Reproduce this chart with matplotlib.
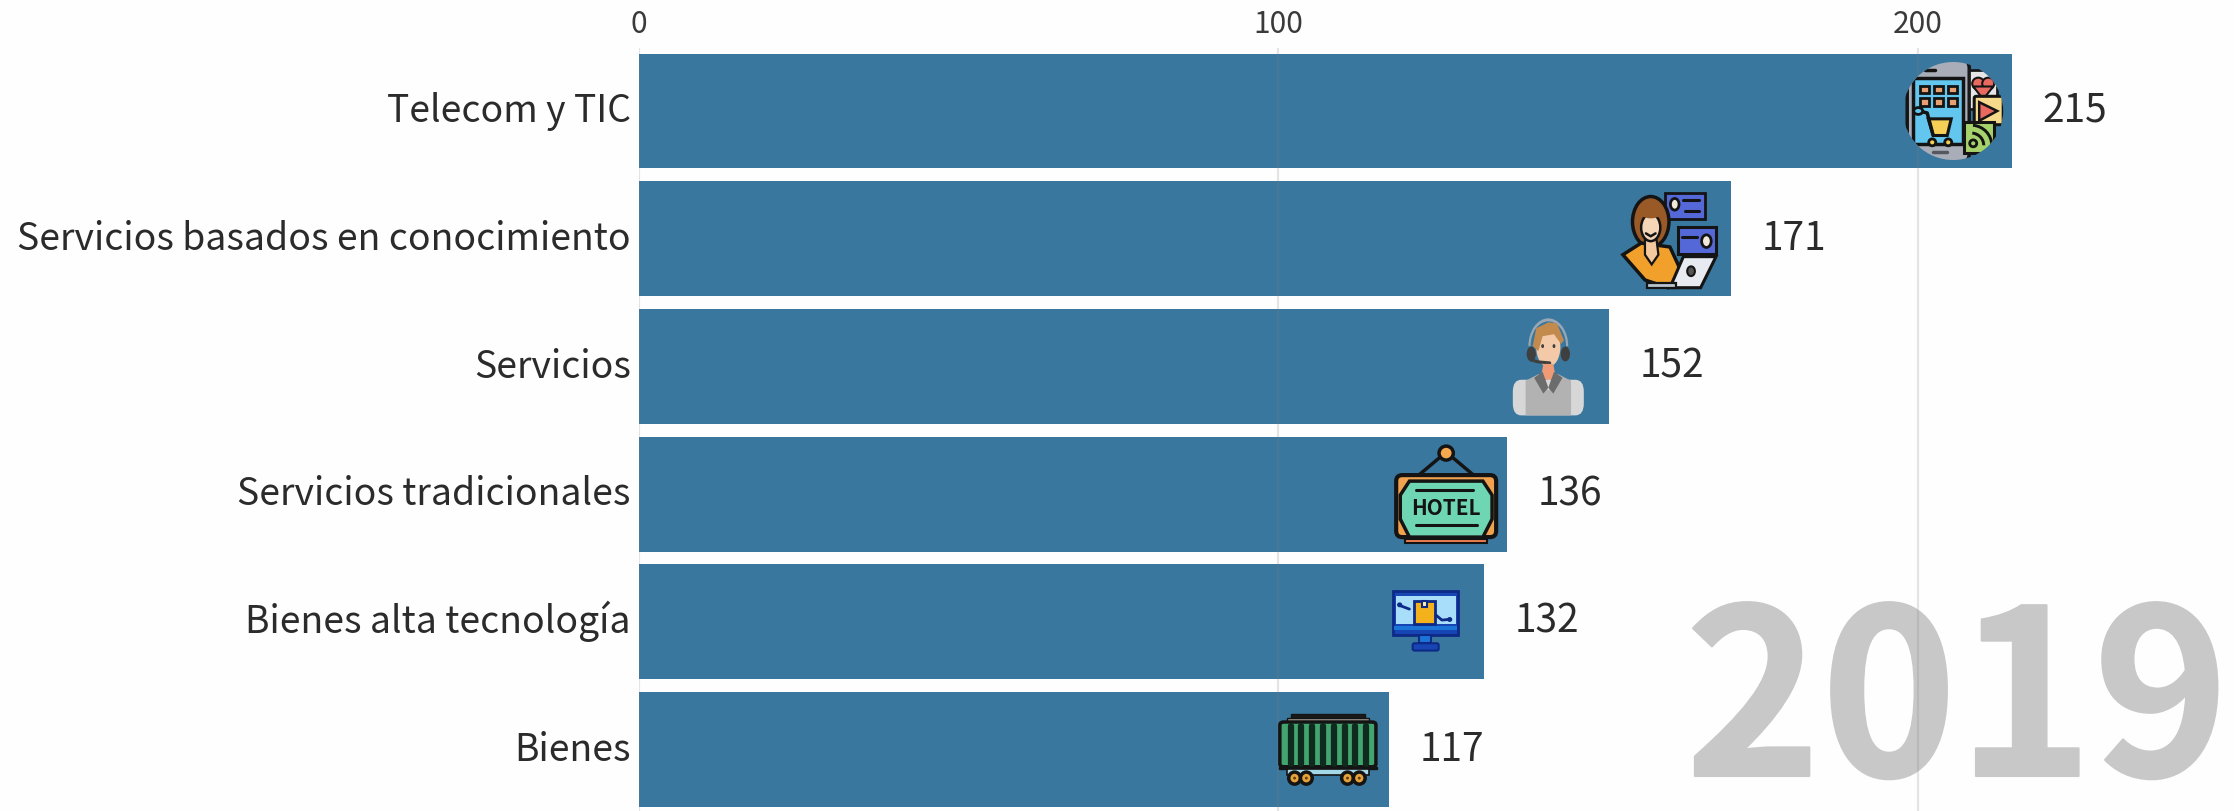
import matplotlib
matplotlib.use("Agg")
import matplotlib.pyplot as plt
import matplotlib.patheffects as pe
from matplotlib.patches import Rectangle, Circle, Polygon, FancyBboxPatch, Ellipse, Wedge
from matplotlib.transforms import Affine2D, ScaledTranslation

categories = ["Telecom y TIC", "Servicios basados en conocimiento", "Servicios",
              "Servicios tradicionales", "Bienes alta tecnología", "Bienes"]
values = [214.8, 170.8, 151.7, 135.8, 132.2, 117.3]
value_labels = ["215", "171", "152", "136", "132", "117"]
year_label = "2019"
x_ticks = [0, 100, 200]

W, H = 2234, 811
FONT = ["Noto Sans CJK SC", "DejaVu Sans"]
INK = "#2b2b2b"
BAR = "#3a779e"
BK = "#141414"

fig = plt.figure(figsize=(W / 100, H / 100), dpi=100, facecolor="#fefefe")
X0, PX_UNIT, Y0, PITCH, TOP = 639.0, 6.393, 111.0, 127.7, 48.0
ax = fig.add_axes([X0 / W, 0, 1 - X0 / W, 1 - TOP / H])
ax.set_facecolor("none")
ax.set_xlim(0, (W - X0) / PX_UNIT)
ax.set_ylim((H - Y0) / PITCH, (TOP - Y0) / PITCH)

y_pos = list(range(len(categories)))
ax.barh(y_pos, values, height=0.9, color=BAR, zorder=2)
ax.xaxis.tick_top()
ax.set_xticks(x_ticks)
ax.set_xticklabels([str(v) for v in x_ticks], family=FONT, fontsize=21.5, color="#3a3a3a")
ax.tick_params(axis="x", length=0, pad=6)
ax.set_yticks(y_pos)
ax.set_yticklabels(categories, family=FONT, fontsize=26.9, color=INK)
ax.tick_params(axis="y", length=0, pad=6)
baseline_shift = ScaledTranslation(0, -8 / 72, fig.dpi_scale_trans)
for lab in ax.get_yticklabels():
    lab.set_va("baseline")
    lab.set_transform(lab.get_transform() + baseline_shift)
for s in ax.spines.values():
    s.set_visible(False)
ax.set_axisbelow(False)
ax.grid(axis="x", color="#808080", alpha=0.2, lw=1.6, zorder=3)
for gl in ax.get_xgridlines():
    gl.set_zorder(3)

for i, v in enumerate(values):
    ax.annotate(value_labels[i], (v, i), xytext=(22, -8), textcoords="offset points",
                family=FONT, fontsize=28, color=INK, va="baseline", ha="left",
                clip_on=False, zorder=5)

year = fig.text(2229 / W, 1 - 776 / H, year_label, family=FONT, fontweight=900, fontsize=166,
                color="#c8c8c8", ha="right", va="baseline", zorder=0.5)
year.set_path_effects([pe.withStroke(linewidth=1.5, foreground="#c8c8c8")])
ax.set_zorder(2)


def box(i, left, right, up, down):
    """100x100 icon space placed relative to the end of bar i (pixel offsets)."""
    xe, yc = ax.transData.transform((values[i], i))
    x0, x1 = xe - left, xe - right
    y_top, y_bot = yc + up, yc - down
    return Affine2D().scale((x1 - x0) / 100, (y_bot - y_top) / 100).translate(x0, y_top)


class Icon:
    def __init__(self, t, clip=None):
        self.t = t
        self.clip = clip

    def add(self, p, z=6):
        p.set_transform(self.t)
        p.set_zorder(z)
        fig.add_artist(p)
        if self.clip is not None:
            p.set_clip_path(self.clip)
        return p

    def rect(self, x, y, w, h, fc, ec=BK, lw=2.0, r=0):
        if r:
            p = FancyBboxPatch((x, y), w, h, boxstyle=f"round,pad=0,rounding_size={r}", fc=fc, ec=ec, lw=lw)
        else:
            p = Rectangle((x, y), w, h, fc=fc, ec=ec, lw=lw)
        return self.add(p)

    def poly(self, pts, fc, ec=BK, lw=2.0):
        return self.add(Polygon(pts, closed=True, fc=fc, ec=ec, lw=lw))

    def ell(self, x, y, w, h, fc, ec=BK, lw=2.0):
        return self.add(Ellipse((x, y), w, h, fc=fc, ec=ec, lw=lw))

    def line(self, xs, ys, c=BK, lw=2.5):
        l = plt.Line2D(xs, ys, color=c, lw=lw, solid_capstyle="round")
        return self.add(l)


# Telecom: phone with app tiles, clipped by a circle
t = box(0, 109, 9, 49, 49)
clip = Circle((50, 50), 50, transform=t)
ic = Icon(t, clip)
ic.rect(4, -2, 62, 104, "#a9adb8", lw=2.5, r=8)
ic.rect(10, 16, 50, 68, "#62c6ee", lw=2.5)
ic.line([22, 32], [8, 8], lw=2.5)
ic.line([30, 44], [92, 92], c="#55585f", lw=2.5)
for r_y in (24, 37):
    for c_x in (17, 31, 45):
        ic.rect(c_x, r_y, 9, 8, "#e8a070", lw=2.0)
ic.rect(66, 8, 28, 40, "#e6e6e6", ec="#1a1a1a", lw=2.0)
ic.add(Ellipse((75, 22), 12, 12, fc="#e8695f", ec=BK, lw=1.5))
ic.add(Ellipse((85, 22), 12, 12, fc="#e8695f", ec=BK, lw=1.5))
ic.poly([(70, 25), (90, 25), (80, 38)], "#e8695f", lw=1.5)
ic.rect(71, 35, 29, 29, "#f6d98a", lw=2.2, r=2)
ic.poly([(76, 41), (94, 50), (76, 60)], "#e8695f", lw=1.8)
ic.rect(61, 61, 30, 32, "#a5d26b", lw=2.2)
ic.ell(70, 83, 7, 7, "#a5d26b", lw=2)
ic.add(Wedge((68, 85), 14, -85, 0, width=3, fc=BK, ec="none"))
ic.add(Wedge((68, 85), 22, -85, 0, width=3, fc=BK, ec="none"))
ic.poly([(25, 58), (48, 58), (44, 75), (30, 75)], "#f5cf56", lw=2.2)
ic.line([16, 24, 30], [50, 52, 75], lw=2.5)
ic.ell(15, 50, 9, 7, "#62c6ee", lw=2)
ic.ell(29, 82, 7, 7, "#f5cf56", lw=2)
ic.ell(45, 82, 7, 7, "#f5cf56", lw=2)

# Knowledge services: woman at a laptop with info cards
ic = Icon(box(1, 109, 13, 48, 49))
ic.rect(45, 2, 42, 27, "#5468d8", lw=2.0)
ic.ell(55, 14, 9, 12, "#f0e8d8", lw=2)
ic.line([64, 80], [10, 10], lw=2.2)
ic.line([66, 80], [21, 21], lw=2.2)
ic.rect(58, 37, 40, 28, "#5468d8", lw=2.2)
ic.line([63, 78], [48, 48], lw=2.2)
ic.ell(88, 52, 10, 13, "#f0e8d8", lw=2)
ic.add(Ellipse((30, 32), 38, 52, fc="#9a5a28", ec=BK, lw=2.5))
ic.poly([(1, 66), (20, 54), (50, 58), (64, 88), (48, 100), (24, 92)], "#f2a02c", lw=2.5)
ic.poly([(24, 50), (36, 50), (38, 66), (31, 76), (24, 66)], "#f3c9a0", lw=1.6)
ic.ell(30, 38, 20, 28, "#f5d5b8", lw=1.8)
ic.add(Ellipse((30, 23), 22, 11, fc="#9a5a28", ec="none"))
ic.line([25, 30, 35], [44, 47, 44], lw=1.8)
ic.poly([(64, 68), (98, 68), (82, 100), (50, 100)], "#e7eaf0", lw=2.2)
ic.ell(72, 83, 8, 10, "#555", lw=1.5)
ic.rect(26, 95, 30, 5, "#b9c4d0", lw=1.6)

# Services: agent with a headset
ic = Icon(box(2, 96, 25, 50, 49))
ic.add(Wedge((50, 30), 28, 180, 360, width=3, fc="#9aa7b5", ec="none"))
ic.add(Ellipse((50, 31), 34, 40, fc="#f3c9a8", ec="none"))
ic.poly([(28, 30), (33, 12), (50, 6), (62, 7), (72, 24), (68, 28), (58, 18), (42, 20), (36, 35)], "#c28a4c", ec="none", lw=0)
ic.ell(26, 38, 13, 15, "#3f3f3f", ec="none", lw=0)
ic.ell(74, 38, 13, 15, "#3f3f3f", ec="none", lw=0)
ic.line([26, 36, 52], [44, 46, 47], c="#3f3f3f", lw=2.2)
ic.ell(42, 30, 4, 4, "#3f3f3f", ec="none", lw=0)
ic.ell(58, 30, 4, 4, "#3f3f3f", ec="none", lw=0)
ic.poly([(43, 48), (57, 48), (60, 60), (50, 66), (40, 60)], "#ee9b76", ec="none", lw=0)
ic.rect(0, 64, 100, 36, "#d7d7d7", ec="none", lw=0, r=12)
ic.poly([(18, 65), (37, 58), (50, 75), (63, 58), (82, 65), (82, 100), (18, 100)], "#b2b2b2", ec="none", lw=0)
ic.poly([(30, 62), (42, 56), (50, 72), (43, 78)], "#6c6c6c", ec="none", lw=0)
ic.poly([(70, 62), (58, 56), (50, 72), (57, 78)], "#6c6c6c", ec="none", lw=0)

# Traditional services: hanging hotel sign
t = box(3, 112, 10, 49, 51)
ic = Icon(t)
ic.line([22, 50, 78], [31, 7, 31], lw=2.5)
ic.ell(50, 8, 14, 14, "#f4a94e", lw=2.5)
ic.rect(1, 30, 98, 62, "#f0a24e", lw=3, r=6)
ic.poly([(14, 36), (86, 36), (95, 50), (95, 74), (86, 92), (14, 92), (5, 74), (5, 50)], "#6fd6b4", lw=2.5)
ic.rect(10, 94, 80, 4, "#ec7f4e", lw=1.5)
ic.line([20, 76], [45, 45], lw=2.2)
ic.line([20, 80], [80, 80], lw=2.2)
hx, hy = t.transform((50, 63))
fig.text(hx / W, hy / H, "HOTEL", family=FONT, fontweight="bold", fontsize=15,
         color=BK, ha="center", va="center", zorder=7)

# High-tech goods: monitor with a parcel
ic = Icon(box(4, 91, 26, 31, 30))
ic.rect(0, 0, 100, 72, "#1746b4", ec="#0d2a86", lw=2)
ic.rect(4, 8, 92, 46, "#a9defa", ec="none", lw=0)
ic.rect(2, 58, 96, 6, "#1b74d8", ec="none", lw=0)
ic.rect(32, 16, 32, 38, "#f3b21c", ec="#0d2a86", lw=2)
ic.rect(44, 16, 8, 10, "#fff0b0", ec="#0d2a86", lw=1.5)
ic.line([10, 25], [24, 30], c="#0d2a86", lw=2)
ic.ell(10, 23, 8, 8, "#0d2a86", ec="none", lw=0)
ic.line([66, 75, 85], [40, 48, 47], c="#0d2a86", lw=2)
ic.ell(87, 47, 8, 8, "#0d2a86", ec="none", lw=0)
ic.rect(40, 72, 18, 14, "#1b74d8", ec="#0d2a86", lw=1.5)
ic.rect(30, 86, 40, 12, "#1746b4", ec="#0d2a86", lw=1.5, r=3)

# Goods: freight wagon
ic = Icon(box(5, 110, 12, 36, 35))
ic.rect(12, 0, 76, 7, "#1a1a1a", lw=1)
ic.rect(8, 7, 84, 5, "#a09a90", ec=BK, lw=1.0)
ic.rect(1, 12, 98, 63, "#43a56e", lw=2.5, r=4)
for k in range(8):
    ic.line([12 + k * 11] * 2, [18, 71], c="#0f2a1e", lw=4.5)
ic.rect(0, 75, 100, 3, BK, lw=1)
ic.rect(8, 78, 84, 9, "#a4d8e6", ec=BK, lw=1.2)
for cx in (16, 28, 70, 82):
    ic.ell(cx, 91, 12, 17, "#e5a33b", lw=2.5)
    ic.ell(cx, 91, 3, 4, "#6a3c10", ec="none", lw=0)

fig.savefig("out.png", dpi=100, facecolor=fig.get_facecolor())
